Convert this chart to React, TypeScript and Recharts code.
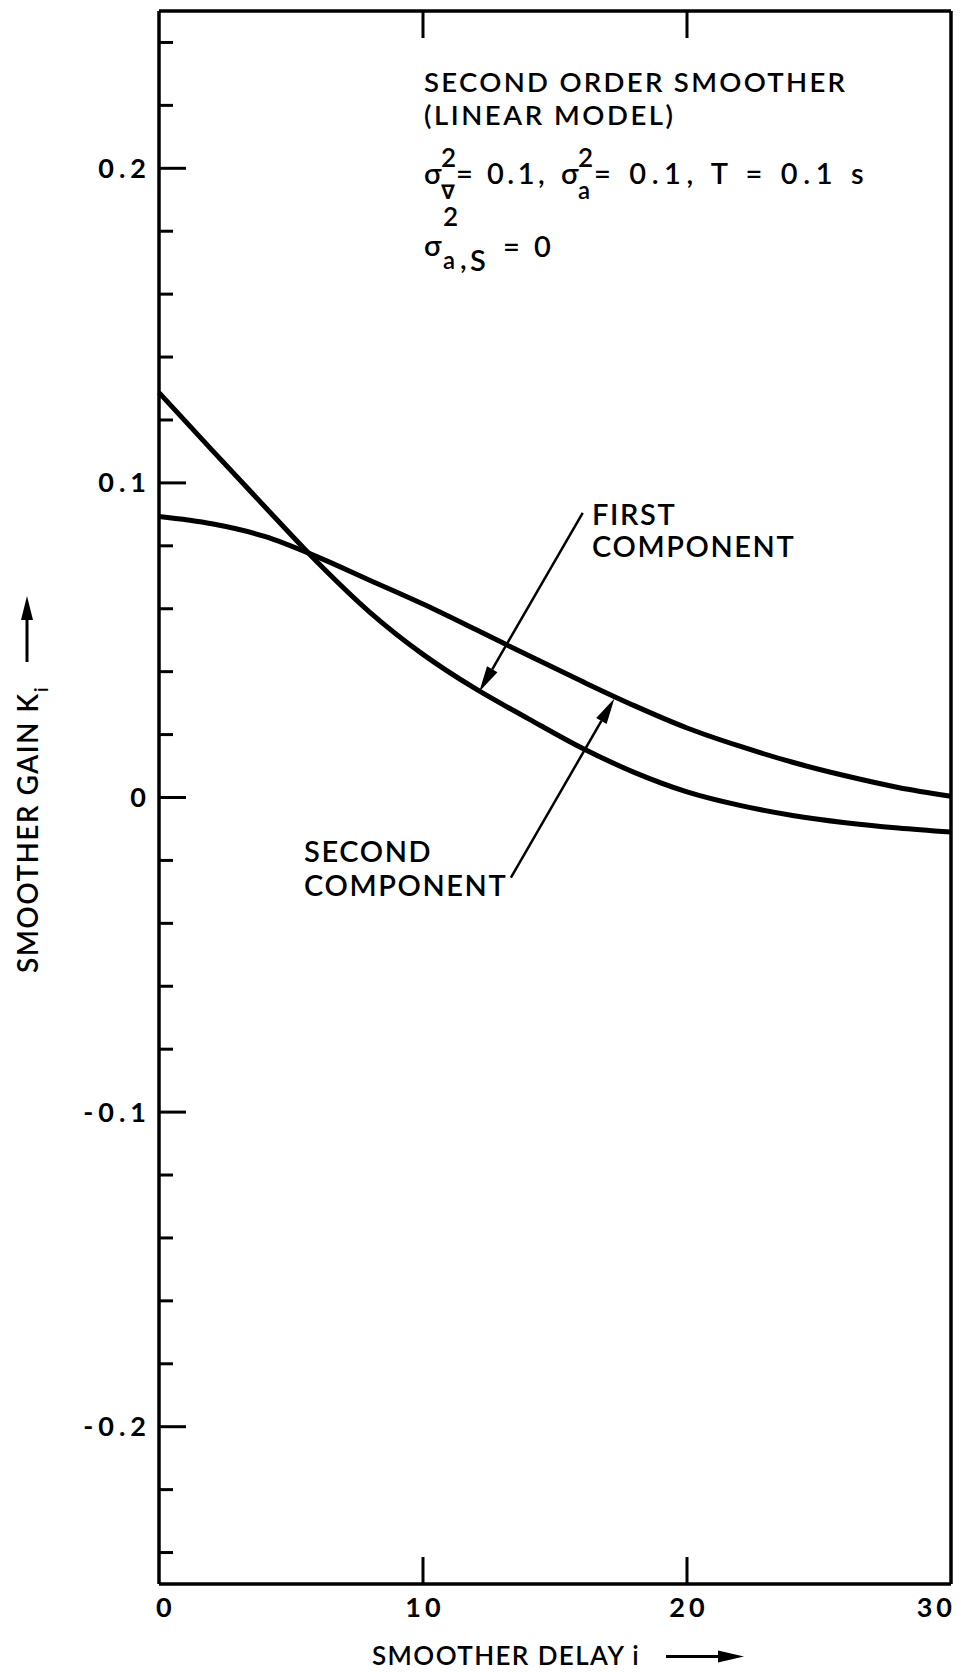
import { LineChart, Line, XAxis, YAxis, ReferenceLine } from "recharts";

// smoother delay i
const delay = [0, 2, 4, 6, 8, 10, 12, 14, 16, 18, 20, 22, 24, 26, 28, 30];
// gain of the first component (starts high, drops fast)
const firstComponent = [
    0.1287, 0.1105, 0.0925, 0.0748, 0.0588, 0.0455, 0.0345, 0.025, 0.0158, 0.008,
    0.0018, -0.0025, -0.0057, -0.008, -0.0097, -0.011,
];
// gain of the second component (starts lower, decays slowly)
const secondComponent = [
    0.0893, 0.087, 0.083, 0.0765, 0.069, 0.0615, 0.0534, 0.0451, 0.037, 0.0292,
    0.0221, 0.0163, 0.0112, 0.0069, 0.0032, 0.0004,
];

const xTicks = [0, 10, 20, 30];
const xTickLabels = ["0", "10", "20", "30"];
const yTicks = [
    -0.24, -0.22, -0.2, -0.18, -0.16, -0.14, -0.12, -0.1, -0.08, -0.06, -0.04, -0.02, 0,
    0.02, 0.04, 0.06, 0.08, 0.1, 0.12, 0.14, 0.16, 0.18, 0.2, 0.22, 0.24,
];
const yMajor = [-0.2, -0.1, 0, 0.1, 0.2];
const yMajorLabels = ["-0.2", "-0.1", "0", "0.1", "0.2"];

// leader arrows: tail -> tip, in data units
const firstArrow = [{ x: 16.05, y: 0.0905 }, { x: 12.13, y: 0.0336 }];
const secondArrow = [{ x: 13.33, y: -0.0255 }, { x: 17.25, y: 0.0315 }];

const data = delay.map((d, i) => ({
    i: d,
    first: firstComponent[i],
    second: secondComponent[i],
}));

const FONT = "Lato, 'DejaVu Sans', sans-serif";
const INK = "#000";
const TICK_SPACING = 4;

const majorIndex = (v: number) => yMajor.findIndex((m) => Math.abs(m - v) < 1e-9);

const LeftTick = (props: any) => {
    const { x, y, payload } = props;
    const idx = majorIndex(payload.value);
    return (
        <g>
            <line x1={x} y1={y} x2={x + (idx >= 0 ? 27 : 14)} y2={y} stroke={INK} strokeWidth={3} />
            {idx >= 0 && (
                <text
                    x={x - 12 + TICK_SPACING}
                    y={y + 9.5}
                    textAnchor="end"
                    fontFamily={FONT}
                    fontWeight={700}
                    fontSize={27}
                    letterSpacing={TICK_SPACING + 1}
                    fill={INK}
                >
                    {yMajorLabels[idx]}
                </text>
            )}
        </g>
    );
};

const RightTick = (props: any) => {
    const { x, y, payload } = props;
    const major = majorIndex(payload.value) >= 0;
    return <line x1={x} y1={y} x2={x - (major ? 26 : 13)} y2={y} stroke={INK} strokeWidth={3} />;
};

const BottomTick = (props: any) => {
    const { x, y, payload } = props;
    const v = payload.value;
    const k = xTicks.indexOf(v);
    const first = k === 0;
    const last = k === xTicks.length - 1;
    // trailing letter spacing shifts centred/right-aligned labels, so compensate
    const tx = first ? x - 3 : last ? x + 1 + TICK_SPACING : x + TICK_SPACING / 2;
    return (
        <g>
            {!first && !last && <line x1={x} y1={y} x2={x} y2={y - 27} stroke={INK} strokeWidth={3} />}
            <text
                x={tx}
                y={y + 33}
                textAnchor={first ? "start" : last ? "end" : "middle"}
                fontFamily={FONT}
                fontWeight={700}
                fontSize={27}
                letterSpacing={TICK_SPACING}
                fill={INK}
            >
                {xTickLabels[k]}
            </text>
        </g>
    );
};

const TopTick = (props: any) => {
    const { x, y, payload } = props;
    const v = payload.value;
    if (v <= xTicks[0] || v >= xTicks[xTicks.length - 1]) return <g />;
    return <line x1={x} y1={y} x2={x} y2={y + 27} stroke={INK} strokeWidth={3} />;
};

const arrowShape = (p: any) => {
    const { x1, y1, x2, y2 } = p;
    const ang = Math.atan2(y2 - y1, x2 - x1);
    const len = 26;
    const half = 6;
    const bx = x2 - len * Math.cos(ang);
    const by = y2 - len * Math.sin(ang);
    const nx = -Math.sin(ang) * half;
    const ny = Math.cos(ang) * half;
    return (
        <g>
            <line x1={x1} y1={y1} x2={bx} y2={by} stroke={INK} strokeWidth={2.5} />
            <polygon points={`${x2},${y2} ${bx + nx},${by + ny} ${bx - nx},${by - ny}`} fill={INK} />
        </g>
    );
};

const txt = {
    fontFamily: FONT,
    fill: INK,
} as const;

export default function App() {
    return (
        <div style={{ position: "absolute", left: 0, top: 0, width: 961, height: 1672, background: "#fff" }}>
            <LineChart width={961} height={1672} data={data} margin={{ top: 0, right: 0, bottom: 0, left: 0 }}>
                <XAxis
                    dataKey="i"
                    type="number"
                    domain={[0, 30]}
                    ticks={xTicks}
                    interval={0}
                    height={88}
                    tickSize={0}
                    tickMargin={0}
                    tickLine={false}
                    axisLine={{ stroke: INK, strokeWidth: 3.5 }}
                    tick={<BottomTick />}
                />
                <XAxis
                    xAxisId="top"
                    orientation="top"
                    dataKey="i"
                    type="number"
                    domain={[0, 30]}
                    ticks={xTicks}
                    interval={0}
                    height={11}
                    tickSize={0}
                    tickMargin={0}
                    tickLine={false}
                    axisLine={{ stroke: INK, strokeWidth: 3.5 }}
                    tick={<TopTick />}
                />
                <YAxis
                    type="number"
                    domain={[-0.25, 0.25]}
                    ticks={yTicks}
                    interval={0}
                    width={159}
                    tickSize={0}
                    tickMargin={0}
                    tickLine={false}
                    axisLine={{ stroke: INK, strokeWidth: 3.5 }}
                    tick={<LeftTick />}
                />
                <YAxis
                    yAxisId="right"
                    orientation="right"
                    type="number"
                    domain={[-0.25, 0.25]}
                    ticks={yTicks}
                    interval={0}
                    width={10}
                    tickSize={0}
                    tickMargin={0}
                    tickLine={false}
                    axisLine={{ stroke: INK, strokeWidth: 3.5 }}
                    tick={<RightTick />}
                />
                <Line
                    dataKey="first"
                    type="monotone"
                    stroke={INK}
                    strokeWidth={5}
                    dot={false}
                    isAnimationActive={false}
                />
                <Line
                    dataKey="second"
                    type="monotone"
                    stroke={INK}
                    strokeWidth={5}
                    dot={false}
                    isAnimationActive={false}
                />
                <ReferenceLine segment={firstArrow} shape={arrowShape} />
                <ReferenceLine segment={secondArrow} shape={arrowShape} />
            </LineChart>

            {/* axis titles and annotation text */}
            <svg
                width={961}
                height={1672}
                style={{ position: "absolute", left: 0, top: 0, pointerEvents: "none" }}
            >
                <g {...txt} fontWeight={600} fontSize={29}>
                    <text x={424} y={92} fontSize={27.5} textLength={421} lengthAdjust="spacing">
                        SECOND ORDER SMOOTHER
                    </text>
                    <text x={424} y={125} fontSize={27.5} textLength={249} lengthAdjust="spacing">
                        (LINEAR MODEL)
                    </text>

                    <text x={424} y={184}>σ</text>
                    <text x={441} y={167} fontSize={26}>2</text>
                    <text x={441} y={199} fontSize={20}>∇</text>
                    <text x={456} y={184} letterSpacing={3.5}>= 0.1,</text>
                    <text x={561} y={184}>σ</text>
                    <text x={578} y={167} fontSize={26}>2</text>
                    <text x={578} y={199} fontSize={24}>a</text>
                    <text x={594} y={184} letterSpacing={5.6}>= 0.1, T = 0.1 s</text>

                    <text x={424} y={256}>σ</text>
                    <text x={443} y={226} fontSize={26}>2</text>
                    <text x={443} y={269} fontSize={24}>a</text>
                    <text x={460} y={269}>,</text>
                    <text x={470} y={271}>S</text>
                    <text x={503} y={257} letterSpacing={3.5}>= 0</text>

                    <g letterSpacing={1.6}>
                        <text x={592} y={525}>FIRST</text>
                        <text x={592} y={557}>COMPONENT</text>
                        <text x={304} y={862}>SECOND</text>
                        <text x={304} y={896}>COMPONENT</text>
                    </g>
                </g>

                {/* x title */}
                <text {...txt} fontWeight={600} fontSize={26} letterSpacing={1.4} x={372} y={1665}>
                    SMOOTHER DELAY i
                </text>
                <line x1={666} y1={1656.5} x2={722} y2={1656.5} stroke={INK} strokeWidth={3} />
                <polygon points="744,1656.5 718,1650.5 718,1662.5" fill={INK} />

                {/* y title */}
                <text
                    {...txt}
                    fontWeight={600}
                    fontSize={28}
                    letterSpacing={1.4}
                    transform="translate(38,973) rotate(-90)"
                >
                    SMOOTHER GAIN K
                    <tspan fontSize={20} dy={10}>i</tspan>
                </text>
                <line x1={27} y1={662} x2={27} y2={614} stroke={INK} strokeWidth={3} />
                <polygon points="27,596 21,620 33,620" fill={INK} />
            </svg>
        </div>
    );
}
